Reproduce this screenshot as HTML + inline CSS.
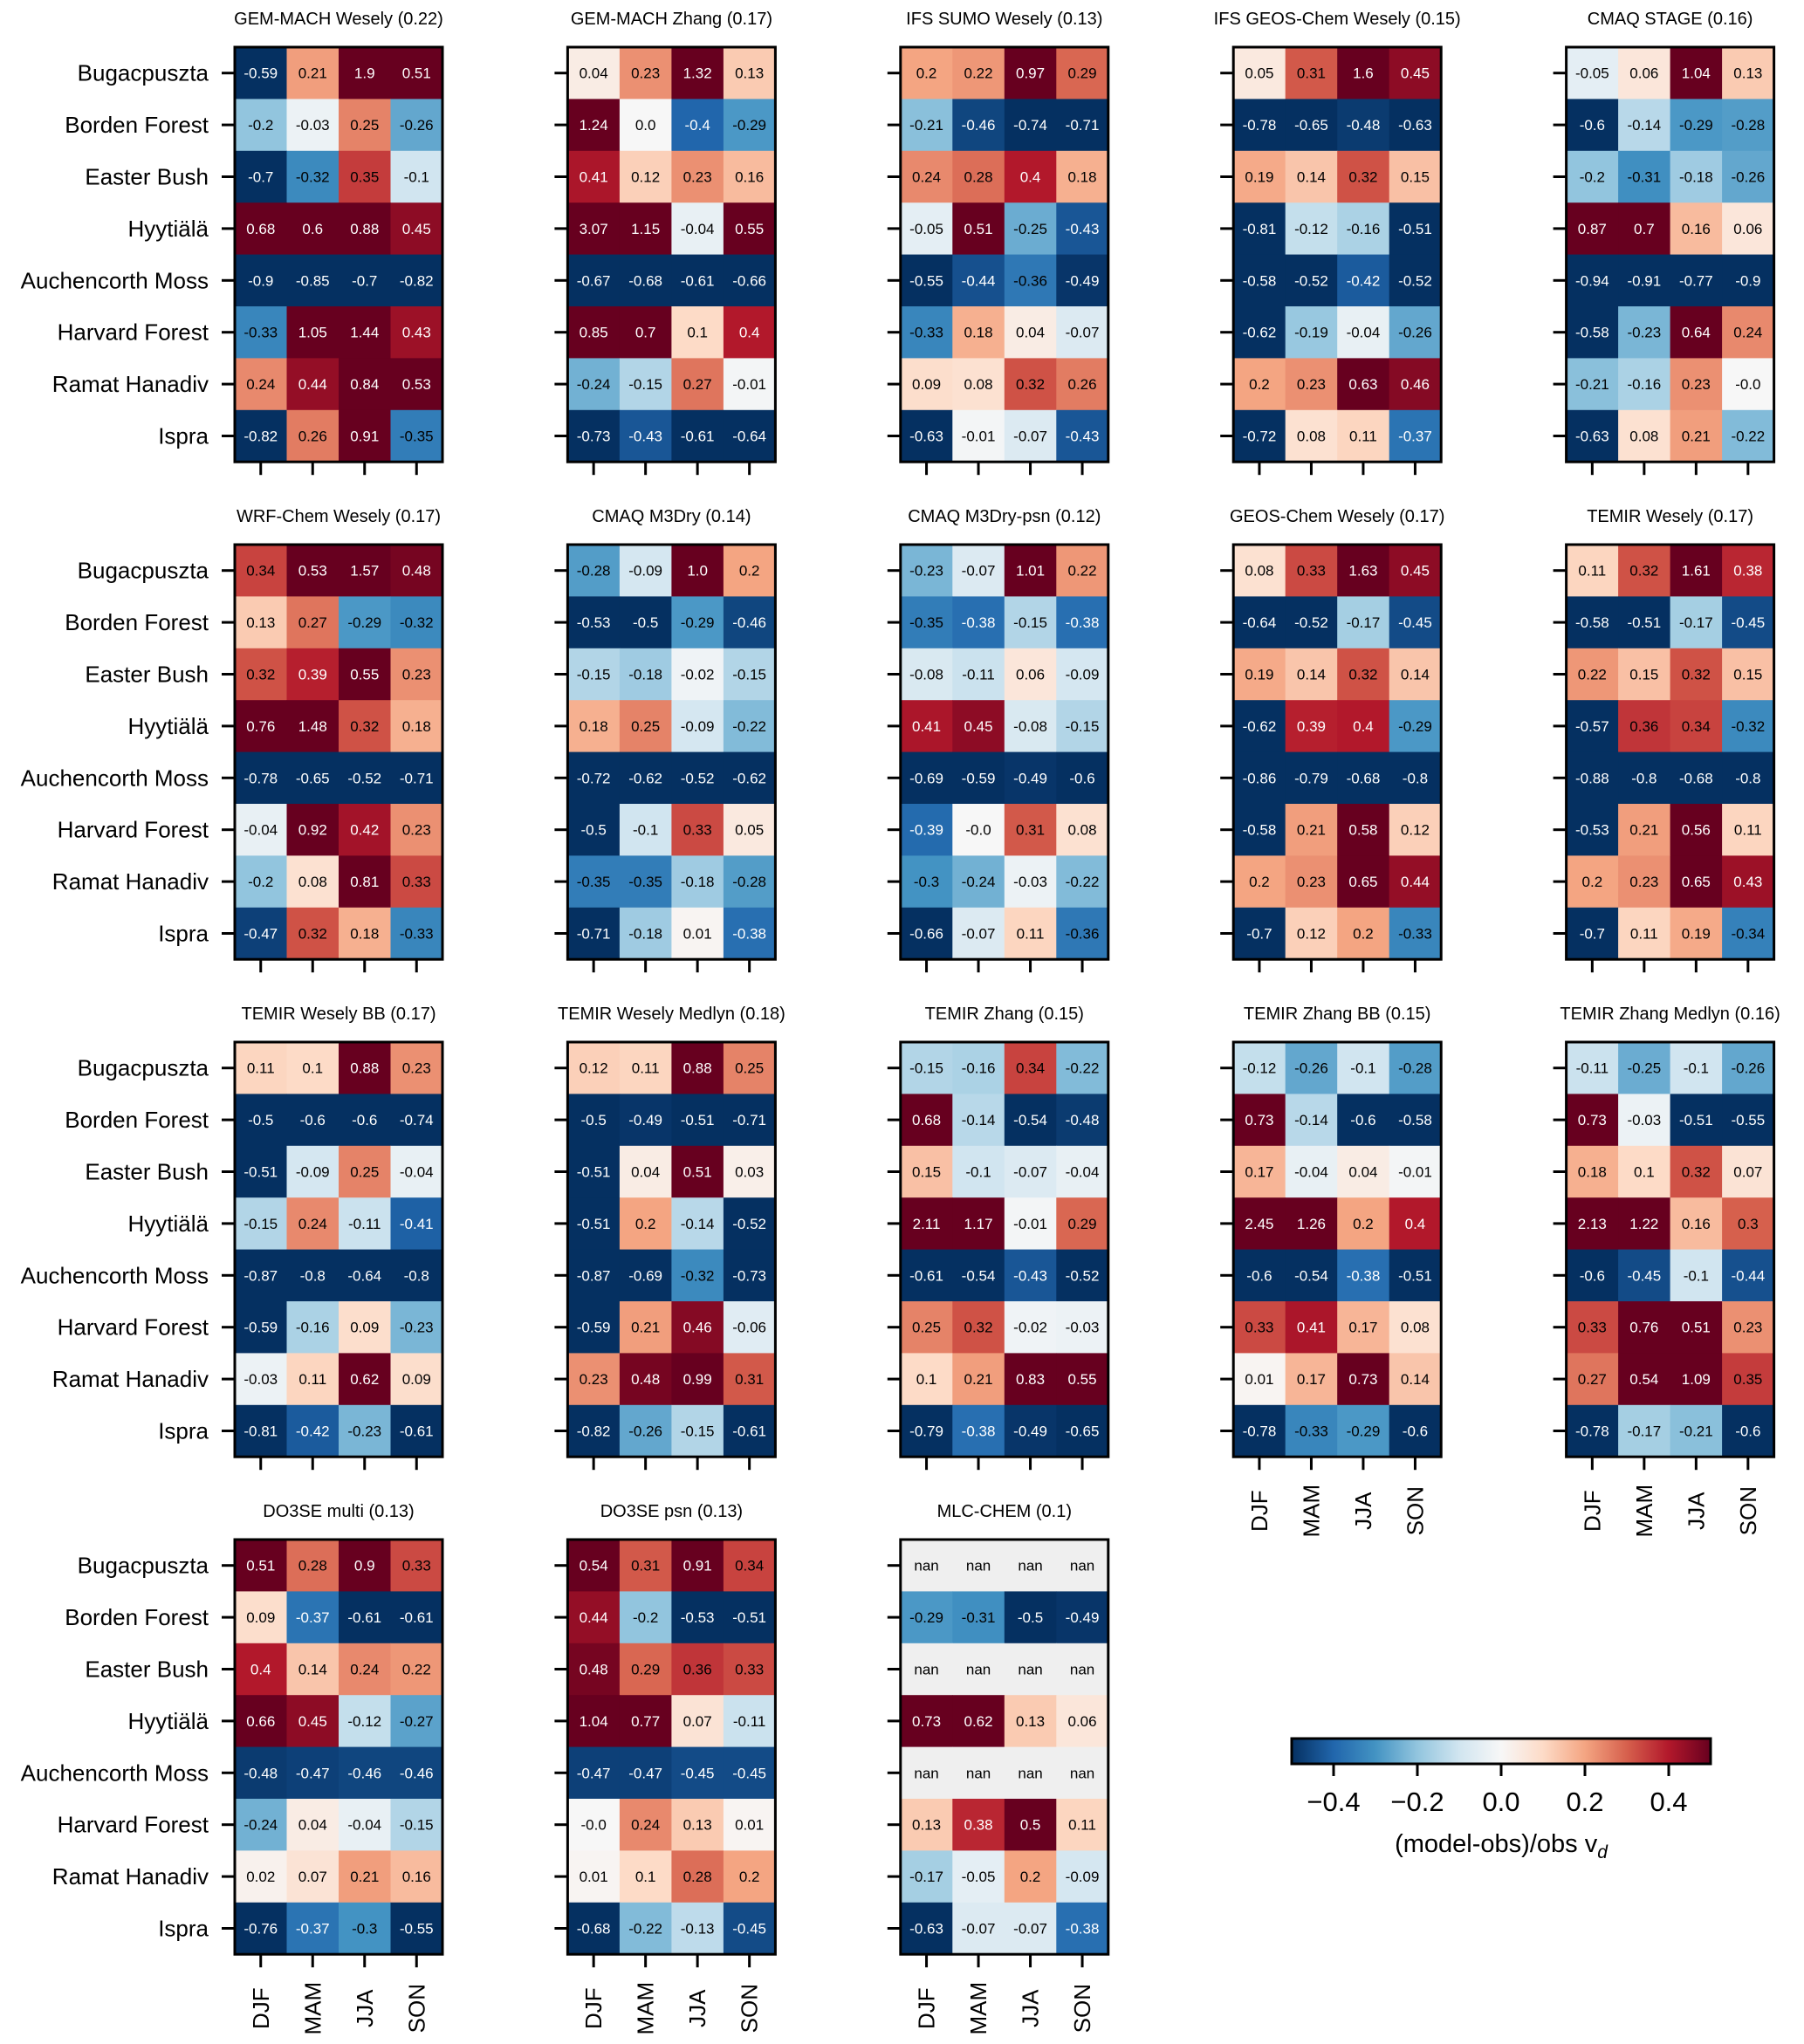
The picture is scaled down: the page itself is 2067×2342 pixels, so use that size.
<!DOCTYPE html>
<html><head><meta charset="utf-8">
<style>
html,body{margin:0;padding:0;background:#fff;}
svg{display:block;font-family:"Liberation Sans",Arial,sans-serif;}
</style></head>
<body>
<svg id="fig" width="2067" height="2342" viewBox="0 0 2067 2342" xmlns="http://www.w3.org/2000/svg"></svg>
<script>
const sites = ["Bugacpuszta","Borden Forest","Easter Bush","Hyytiälä","Auchencorth Moss","Harvard Forest","Ramat Hanadiv","Ispra"];
const seasons = ["DJF","MAM","JJA","SON"];
const modelTitles = ["GEM-MACH Wesely (0.22)","GEM-MACH Zhang (0.17)","IFS SUMO Wesely (0.13)","IFS GEOS-Chem Wesely (0.15)","CMAQ STAGE (0.16)",
"WRF-Chem Wesely (0.17)","CMAQ M3Dry (0.14)","CMAQ M3Dry-psn (0.12)","GEOS-Chem Wesely (0.17)","TEMIR Wesely (0.17)",
"TEMIR Wesely BB (0.17)","TEMIR Wesely Medlyn (0.18)","TEMIR Zhang (0.15)","TEMIR Zhang BB (0.15)","TEMIR Zhang Medlyn (0.16)",
"DO3SE multi (0.13)","DO3SE psn (0.13)","MLC-CHEM (0.1)"];
const colorbarTicks = [-0.4,-0.2,0.0,0.2,0.4];
const N = NaN;
const gemMachWesely = [[-0.59,0.21,1.9,0.51],[-0.2,-0.03,0.25,-0.26],[-0.7,-0.32,0.35,-0.1],[0.68,0.6,0.88,0.45],[-0.9,-0.85,-0.7,-0.82],[-0.33,1.05,1.44,0.43],[0.24,0.44,0.84,0.53],[-0.82,0.26,0.91,-0.35]];
const gemMachZhang = [[0.04,0.23,1.32,0.13],[1.24,0.0,-0.4,-0.29],[0.41,0.12,0.23,0.16],[3.07,1.15,-0.04,0.55],[-0.67,-0.68,-0.61,-0.66],[0.85,0.7,0.1,0.4],[-0.24,-0.15,0.27,-0.01],[-0.73,-0.43,-0.61,-0.64]];
const ifsSumoWesely = [[0.2,0.22,0.97,0.29],[-0.21,-0.46,-0.74,-0.71],[0.24,0.28,0.4,0.18],[-0.05,0.51,-0.25,-0.43],[-0.55,-0.44,-0.36,-0.49],[-0.33,0.18,0.04,-0.07],[0.09,0.08,0.32,0.26],[-0.63,-0.01,-0.07,-0.43]];
const ifsGeosChemWesely = [[0.05,0.31,1.6,0.45],[-0.78,-0.65,-0.48,-0.63],[0.19,0.14,0.32,0.15],[-0.81,-0.12,-0.16,-0.51],[-0.58,-0.52,-0.42,-0.52],[-0.62,-0.19,-0.04,-0.26],[0.2,0.23,0.63,0.46],[-0.72,0.08,0.11,-0.37]];
const cmaqStage = [[-0.05,0.06,1.04,0.13],[-0.6,-0.14,-0.29,-0.28],[-0.2,-0.31,-0.18,-0.26],[0.87,0.7,0.16,0.06],[-0.94,-0.91,-0.77,-0.9],[-0.58,-0.23,0.64,0.24],[-0.21,-0.16,0.23,-0.0],[-0.63,0.08,0.21,-0.22]];
const wrfChemWesely = [[0.34,0.53,1.57,0.48],[0.13,0.27,-0.29,-0.32],[0.32,0.39,0.55,0.23],[0.76,1.48,0.32,0.18],[-0.78,-0.65,-0.52,-0.71],[-0.04,0.92,0.42,0.23],[-0.2,0.08,0.81,0.33],[-0.47,0.32,0.18,-0.33]];
const cmaqM3Dry = [[-0.28,-0.09,1.0,0.2],[-0.53,-0.5,-0.29,-0.46],[-0.15,-0.18,-0.02,-0.15],[0.18,0.25,-0.09,-0.22],[-0.72,-0.62,-0.52,-0.62],[-0.5,-0.1,0.33,0.05],[-0.35,-0.35,-0.18,-0.28],[-0.71,-0.18,0.01,-0.38]];
const cmaqM3DryPsn = [[-0.23,-0.07,1.01,0.22],[-0.35,-0.38,-0.15,-0.38],[-0.08,-0.11,0.06,-0.09],[0.41,0.45,-0.08,-0.15],[-0.69,-0.59,-0.49,-0.6],[-0.39,-0.0,0.31,0.08],[-0.3,-0.24,-0.03,-0.22],[-0.66,-0.07,0.11,-0.36]];
const geosChemWesely = [[0.08,0.33,1.63,0.45],[-0.64,-0.52,-0.17,-0.45],[0.19,0.14,0.32,0.14],[-0.62,0.39,0.4,-0.29],[-0.86,-0.79,-0.68,-0.8],[-0.58,0.21,0.58,0.12],[0.2,0.23,0.65,0.44],[-0.7,0.12,0.2,-0.33]];
const temirWesely = [[0.11,0.32,1.61,0.38],[-0.58,-0.51,-0.17,-0.45],[0.22,0.15,0.32,0.15],[-0.57,0.36,0.34,-0.32],[-0.88,-0.8,-0.68,-0.8],[-0.53,0.21,0.56,0.11],[0.2,0.23,0.65,0.43],[-0.7,0.11,0.19,-0.34]];
const temirWeselyBB = [[0.11,0.1,0.88,0.23],[-0.5,-0.6,-0.6,-0.74],[-0.51,-0.09,0.25,-0.04],[-0.15,0.24,-0.11,-0.41],[-0.87,-0.8,-0.64,-0.8],[-0.59,-0.16,0.09,-0.23],[-0.03,0.11,0.62,0.09],[-0.81,-0.42,-0.23,-0.61]];
const temirWeselyMedlyn = [[0.12,0.11,0.88,0.25],[-0.5,-0.49,-0.51,-0.71],[-0.51,0.04,0.51,0.03],[-0.51,0.2,-0.14,-0.52],[-0.87,-0.69,-0.32,-0.73],[-0.59,0.21,0.46,-0.06],[0.23,0.48,0.99,0.31],[-0.82,-0.26,-0.15,-0.61]];
const temirZhang = [[-0.15,-0.16,0.34,-0.22],[0.68,-0.14,-0.54,-0.48],[0.15,-0.1,-0.07,-0.04],[2.11,1.17,-0.01,0.29],[-0.61,-0.54,-0.43,-0.52],[0.25,0.32,-0.02,-0.03],[0.1,0.21,0.83,0.55],[-0.79,-0.38,-0.49,-0.65]];
const temirZhangBB = [[-0.12,-0.26,-0.1,-0.28],[0.73,-0.14,-0.6,-0.58],[0.17,-0.04,0.04,-0.01],[2.45,1.26,0.2,0.4],[-0.6,-0.54,-0.38,-0.51],[0.33,0.41,0.17,0.08],[0.01,0.17,0.73,0.14],[-0.78,-0.33,-0.29,-0.6]];
const temirZhangMedlyn = [[-0.11,-0.25,-0.1,-0.26],[0.73,-0.03,-0.51,-0.55],[0.18,0.1,0.32,0.07],[2.13,1.22,0.16,0.3],[-0.6,-0.45,-0.1,-0.44],[0.33,0.76,0.51,0.23],[0.27,0.54,1.09,0.35],[-0.78,-0.17,-0.21,-0.6]];
const do3seMulti = [[0.51,0.28,0.9,0.33],[0.09,-0.37,-0.61,-0.61],[0.4,0.14,0.24,0.22],[0.66,0.45,-0.12,-0.27],[-0.48,-0.47,-0.46,-0.46],[-0.24,0.04,-0.04,-0.15],[0.02,0.07,0.21,0.16],[-0.76,-0.37,-0.3,-0.55]];
const do3sePsn = [[0.54,0.31,0.91,0.34],[0.44,-0.2,-0.53,-0.51],[0.48,0.29,0.36,0.33],[1.04,0.77,0.07,-0.11],[-0.47,-0.47,-0.45,-0.45],[-0.0,0.24,0.13,0.01],[0.01,0.1,0.28,0.2],[-0.68,-0.22,-0.13,-0.45]];
const mlcChem = [[N,N,N,N],[-0.29,-0.31,-0.5,-0.49],[N,N,N,N],[0.73,0.62,0.13,0.06],[N,N,N,N],[0.13,0.38,0.5,0.11],[-0.17,-0.05,0.2,-0.09],[-0.63,-0.07,-0.07,-0.38]];
const panelData = [gemMachWesely,gemMachZhang,ifsSumoWesely,ifsGeosChemWesely,cmaqStage,wrfChemWesely,cmaqM3Dry,cmaqM3DryPsn,geosChemWesely,temirWesely,temirWeselyBB,temirWeselyMedlyn,temirZhang,temirZhangBB,temirZhangMedlyn,do3seMulti,do3sePsn,mlcChem];

const NS="http://www.w3.org/2000/svg";
const svg=document.getElementById('fig');
function mk(tag,attrs,parent){const e=document.createElementNS(NS,tag);for(const k in attrs)e.setAttribute(k,attrs[k]);(parent||svg).appendChild(e);return e;}
const stops=["#053061","#2166ac","#4393c3","#92c5de","#d1e5f0","#f7f7f7","#fddbc7","#f4a582","#d6604d","#b2182b","#67001f"];
function hex(h){return [1,3,5].map(i=>parseInt(h.substr(i,2),16));}
const stopRGB=stops.map(hex);
const vmin=-0.5,vmax=0.5;
function cmap(v){let t=(v-vmin)/(vmax-vmin);t=Math.max(0,Math.min(1,t));const p=t*10;const i=Math.min(9,Math.floor(p));const f=p-i;const a=stopRGB[i],b=stopRGB[i+1];return "rgb("+a.map((x,k)=>Math.round(x+(b[k]-x)*f)).join(",")+")";}
function fmt(v){if(isNaN(v))return "nan";if(Object.is(v,-0))return "-0.0";if(Number.isInteger(v))return v.toFixed(1);return String(v);}

const CW=59.5,CH=59.4,X0=269,Y0=54,PX=381.4,PY=570;
const xScale=(j,left)=>left+j*CW;
const yScale=(i,top)=>top+i*CH;
const cbX=v=>1480+(v-vmin)/(vmax-vmin)*480;

panelData.forEach((data,p)=>{
  const col=p%5,row=Math.floor(p/5);
  const left=X0+col*PX,top=Y0+row*PY,W=4*CW,H=8*CH;
  const g=mk('g',{});
  
  
  const t=mk('text',{x:left+W/2,y:top-26,'text-anchor':'middle','font-size':20,fill:'#000'},g);
  t.textContent=modelTitles[p];
  
  
  data.forEach((rowv,i)=>{rowv.forEach((v,j)=>{
    const x=xScale(j,left),y=yScale(i,top);
    const r=mk('rect',{x:x,y:y,width:CW+0.5,height:CH+0.5,fill:isNaN(v)?'#efefef':cmap(v)},g);
    
    
    const tx=mk('text',{x:x+CW/2,y:y+CH/2+6,'text-anchor':'middle','font-size':17,fill:(!isNaN(v)&&Math.abs(v)>=0.37)?'#fff':'#000'},g);
    tx.textContent=fmt(v);
    
    
  });});
  const b=mk('rect',{x:left,y:top,width:W,height:H,fill:'none',stroke:'#000','stroke-width':3},g);
  
  
  sites.forEach((s,i)=>{
    const yc=yScale(i,top)+CH/2;
    mk('line',{x1:left-15,x2:left,y1:yc,y2:yc,stroke:'#000','stroke-width':3},g);
    if(col===0){
      const l=mk('text',{x:left-30,y:yc+9,'text-anchor':'end','font-size':26,fill:'#000'},g);
      l.textContent=s;
      
      
    }
  });
  const bottomLabels = row===3 || (row===2 && col>=3);
  seasons.forEach((s,j)=>{
    const xc=xScale(j,left)+CW/2;
    mk('line',{x1:xc,x2:xc,y1:top+H,y2:top+H+15,stroke:'#000','stroke-width':3},g);
    if(bottomLabels){
      const l=mk('text',{x:0,y:0,'text-anchor':'middle','font-size':26,fill:'#000',transform:'translate('+(xc+9)+','+(top+H+62)+') rotate(-90)'},g);
      l.textContent=s;
      
      
    }
  });
});

// colorbar
const cb=mk('g',{});


const defs=mk('defs',{},cb);
const grad=mk('linearGradient',{id:'rdbu',x1:0,x2:1,y1:0,y2:0},defs);
stops.forEach((c,i)=>mk('stop',{offset:(i*10)+'%','stop-color':c},grad));
mk('rect',{x:1480,y:1992,width:480,height:29,fill:'url(#rdbu)',stroke:'#000','stroke-width':3},cb);
colorbarTicks.forEach(v=>{
  const x=cbX(v);
  mk('line',{x1:x,x2:x,y1:2021,y2:2035,stroke:'#000','stroke-width':3},cb);
  const l=mk('text',{x:x,y:2075,'text-anchor':'middle','font-size':31,fill:'#000'},cb);
  l.textContent=(v<0?'\u2212':'')+Math.abs(v).toFixed(1);
  
  
});
const cl=mk('text',{x:1720,y:2122,'text-anchor':'middle','font-size':29,fill:'#000'},cb);
cl.innerHTML='(model-obs)/obs v<tspan font-style="italic" font-size="21" dy="7">d</tspan>';


</script>
</body></html>
